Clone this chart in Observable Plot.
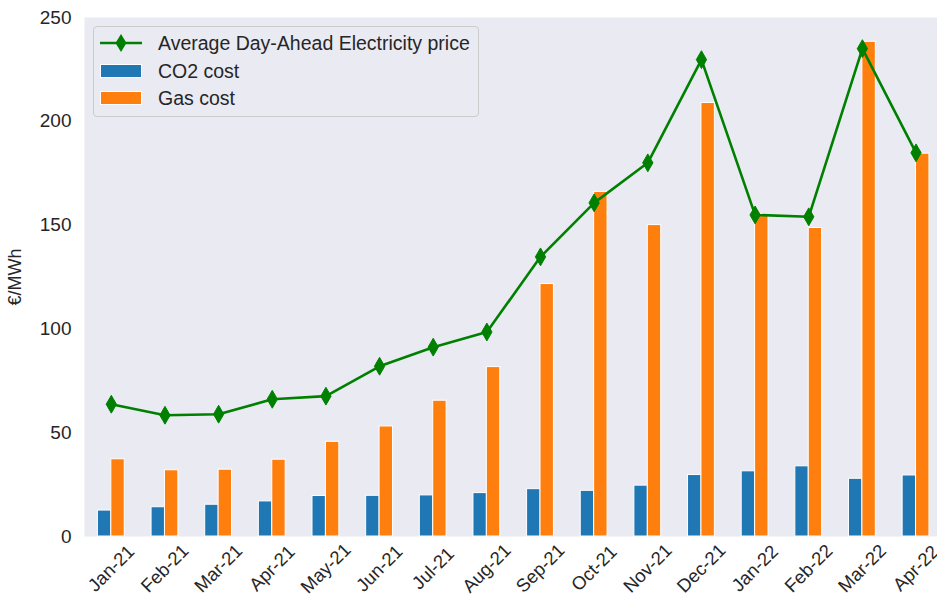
<!DOCTYPE html>
<html><head><meta charset="utf-8">
<script src="https://cdn.jsdelivr.net/npm/d3@7"></script>
<script src="https://cdn.jsdelivr.net/npm/@observablehq/plot@0.6"></script>
<style>
body{margin:0;background:#fff;font-family:"Liberation Sans",Arial,sans-serif;}
#wrap{position:relative;width:937px;height:602px;overflow:hidden}
#legend{position:absolute;left:93px;top:26px;width:386px;height:91px;border:1px solid #cccccc;border-radius:4px;background:rgba(234,234,242,0.8);box-sizing:border-box;font-size:19.5px;color:#262626}
.row{position:absolute;left:6px;height:24px;display:flex;align-items:center;white-space:nowrap}
.row svg{margin-right:16px}
</style></head><body>
<div id="wrap"><div id="chart"></div><div id="legend"></div></div>
<script>
const months = ["Jan-21","Feb-21","Mar-21","Apr-21","May-21","Jun-21","Jul-21","Aug-21","Sep-21","Oct-21","Nov-21","Dec-21","Jan-22","Feb-22","Mar-22","Apr-22"];
const price = [63.7,58.4,58.9,66.1,67.6,82.0,91.2,98.5,134.7,160.7,180.0,229.7,154.9,154.0,235.0,184.8];
const co2 = [12.5,14.1,15.3,16.9,19.5,19.6,19.8,20.9,22.8,22.0,24.5,29.6,31.4,33.8,27.8,29.4];
const gas = [37.2,31.9,32.2,37.0,45.6,53.0,65.4,81.6,121.6,166.0,150.0,208.8,154.4,148.6,238.3,184.4];
const yTicks = [0,50,100,150,200,250];
const seriesNames = ["Average Day-Ahead Electricity price","CO2 cost","Gas cost"];
const colors = {price:"#008000", co2:"#1f77b4", gas:"#ff7f0e"};

const rows = months.map((m,i)=>({m, i, price:price[i], co2:co2[i], gas:gas[i]}));

const chart = Plot.plot({
  width: 937, height: 602,
  marginLeft: 84, marginRight: 0, marginTop: 17, marginBottom: 66,
  style: {fontFamily: '"Liberation Sans", Arial, sans-serif', fontSize: "19px", color: "#262626", background: "#fff", overflow: "visible"},
  x: {type: "linear", domain: [-0.5, 15.4], axis: null},
  y: {domain: [0, 250], axis: null},
  marks: [
    Plot.frame({fill: "#EAEAF2", stroke: null}),
    Plot.rect(rows, {x1: d => d.i - 0.25, x2: d => d.i, y1: 0, y2: "co2", fill: colors.co2, stroke: "white", strokeWidth: 1}),
    Plot.rect(rows, {x1: d => d.i, x2: d => d.i + 0.25, y1: 0, y2: "gas", fill: colors.gas, stroke: "white", strokeWidth: 1}),
    Plot.line(rows, {x: "i", y: "price", stroke: colors.price, strokeWidth: 2.6}),
    Plot.dot(rows, {x: "i", y: "price", symbol: "diamond", r: 5.4, fill: colors.price, stroke: colors.price, strokeWidth: 1}),
    Plot.axisY({ticks: yTicks, tickSize: 0, tickPadding: 13, fontSize: 19, label: null}),
    Plot.text(["€/MWh"], {frameAnchor: "left", dx: -69, rotate: -90, textAnchor: "middle", lineAnchor: "middle", fontSize: 18, fill: "#262626"}),
    Plot.text(rows, {x: "i", text: "m", frameAnchor: "bottom", dy: 32, rotate: -45, textAnchor: "middle", lineAnchor: "middle", fontSize: 18.5, fill: "#262626"})
  ]
});
document.getElementById("chart").appendChild(chart);

const lg = document.getElementById("legend");
const tops = [4, 32, 59];
const icons = [
  `<svg width="42" height="22"><line x1="0" y1="11" x2="42" y2="11" stroke="${colors.price}" stroke-width="2.6"/><path d="M21,2 L26.5,11 L21,20 L15.5,11 Z" fill="${colors.price}"/></svg>`,
  `<svg width="42" height="22"><rect x="0.5" y="4.5" width="41" height="13" fill="${colors.co2}" stroke="white"/></svg>`,
  `<svg width="42" height="22"><rect x="0.5" y="4.5" width="41" height="13" fill="${colors.gas}" stroke="white"/></svg>`
];
seriesNames.forEach((n,k)=>{
  const r = document.createElement("div");
  r.className = "row";
  r.style.top = tops[k] + "px";
  r.innerHTML = icons[k] + `<span>${n}</span>`;
  lg.appendChild(r);
});
</script>
</body></html>
